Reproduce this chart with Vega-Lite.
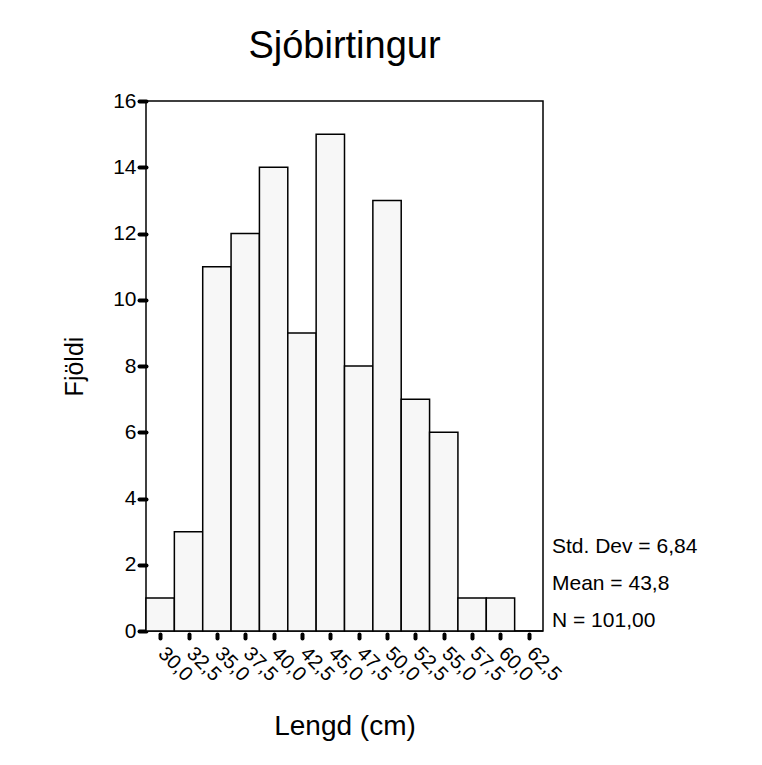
{
  "$schema": "https://vega.github.io/schema/vega-lite/v6.json",
  "autosize": "none",
  "width": 397,
  "height": 530,
  "padding": {"left": 146, "top": 101, "right": 219, "bottom": 134},
  "background": "white",
  "title": {
    "text": "Sjóbirtingur",
    "font": "Liberation Sans",
    "fontSize": 38,
    "fontWeight": "normal",
    "color": "black",
    "anchor": "middle",
    "frame": "group",
    "baseline": "alphabetic",
    "offset": 34,
    "dy": 40
  },
  "config": {
    "locale": {"number": {"decimal": ",", "thousands": ".", "grouping": [3], "currency": ["", ""]}},
    "view": {"stroke": "black", "strokeWidth": 1.5},
    "font": "Liberation Sans",
    "axis": {
      "labelFont": "Liberation Sans",
      "titleFont": "Liberation Sans",
      "labelColor": "black",
      "titleColor": "black",
      "titleFontWeight": "normal",
      "tickColor": "black",
      "domainColor": "black",
      "grid": false
    }
  },
  "data": {
    "values": [
      {"bin_start": 28.75, "bin_end": 31.25, "count": 1},
      {"bin_start": 31.25, "bin_end": 33.75, "count": 3},
      {"bin_start": 33.75, "bin_end": 36.25, "count": 11},
      {"bin_start": 36.25, "bin_end": 38.75, "count": 12},
      {"bin_start": 38.75, "bin_end": 41.25, "count": 14},
      {"bin_start": 41.25, "bin_end": 43.75, "count": 9},
      {"bin_start": 43.75, "bin_end": 46.25, "count": 15},
      {"bin_start": 46.25, "bin_end": 48.75, "count": 8},
      {"bin_start": 48.75, "bin_end": 51.25, "count": 13},
      {"bin_start": 51.25, "bin_end": 53.75, "count": 7},
      {"bin_start": 53.75, "bin_end": 56.25, "count": 6},
      {"bin_start": 56.25, "bin_end": 58.75, "count": 1},
      {"bin_start": 58.75, "bin_end": 61.25, "count": 1},
      {"bin_start": 61.25, "bin_end": 63.75, "count": 0}
    ]
  },
  "layer": [
    {
      "mark": {"type": "bar", "fill": "#f7f7f7", "stroke": "black", "strokeWidth": 1.5, "cornerRadius": 0},
      "encoding": {
        "x": {
          "field": "bin_start",
          "type": "quantitative",
          "scale": {"domain": [28.75, 63.75], "nice": false, "zero": false},
          "axis": {
            "title": "Lengd (cm)",
            "titleFontSize": 28,
            "titlePadding": 28,
            "values": [30, 32.5, 35, 37.5, 40, 42.5, 45, 47.5, 50, 52.5, 55, 57.5, 60, 62.5],
            "tickCount": 14,
            "format": ".1f",
            "labelAngle": 45,
            "labelAlign": "left",
            "labelBaseline": "top",
            "labelFontSize": 20,
            "labelPadding": 5,
            "labelOffset": 8,
            "labelFlush": false,
            "labelOverlap": false,
            "domain": false,
            "offset": 3,
            "tickSize": 4,
            "tickWidth": 4,
            "tickCap": "round"
          }
        },
        "x2": {"field": "bin_end"},
        "y": {
          "field": "count",
          "type": "quantitative",
          "scale": {"domain": [0, 16], "nice": false},
          "axis": {
            "title": "Fjöldi",
            "titleFontSize": 25,
            "titlePadding": 25,
            "values": [0, 2, 4, 6, 8, 10, 12, 14, 16],
            "labelFontSize": 21,
            "labelPadding": 3,
            "domain": false,
            "tickSize": 7,
            "tickWidth": 4,
            "tickCap": "round"
          }
        },
        "y2": {"datum": 0}
      }
    },
    {
      "data": {"values": [{"label": "Std. Dev = 6,84\nMean = 43,8\nN = 101,00"}]},
      "mark": {"type": "text", "align": "left", "baseline": "bottom", "lineBreak": "\n", "lineHeight": 37, "fontSize": 21, "font": "Liberation Sans", "color": "black", "dx": 9, "dy": -74},
      "encoding": {
        "x": {"datum": 63.75, "type": "quantitative"},
        "y": {"datum": 0, "type": "quantitative"},
        "text": {"field": "label"}
      }
    }
  ]
}
